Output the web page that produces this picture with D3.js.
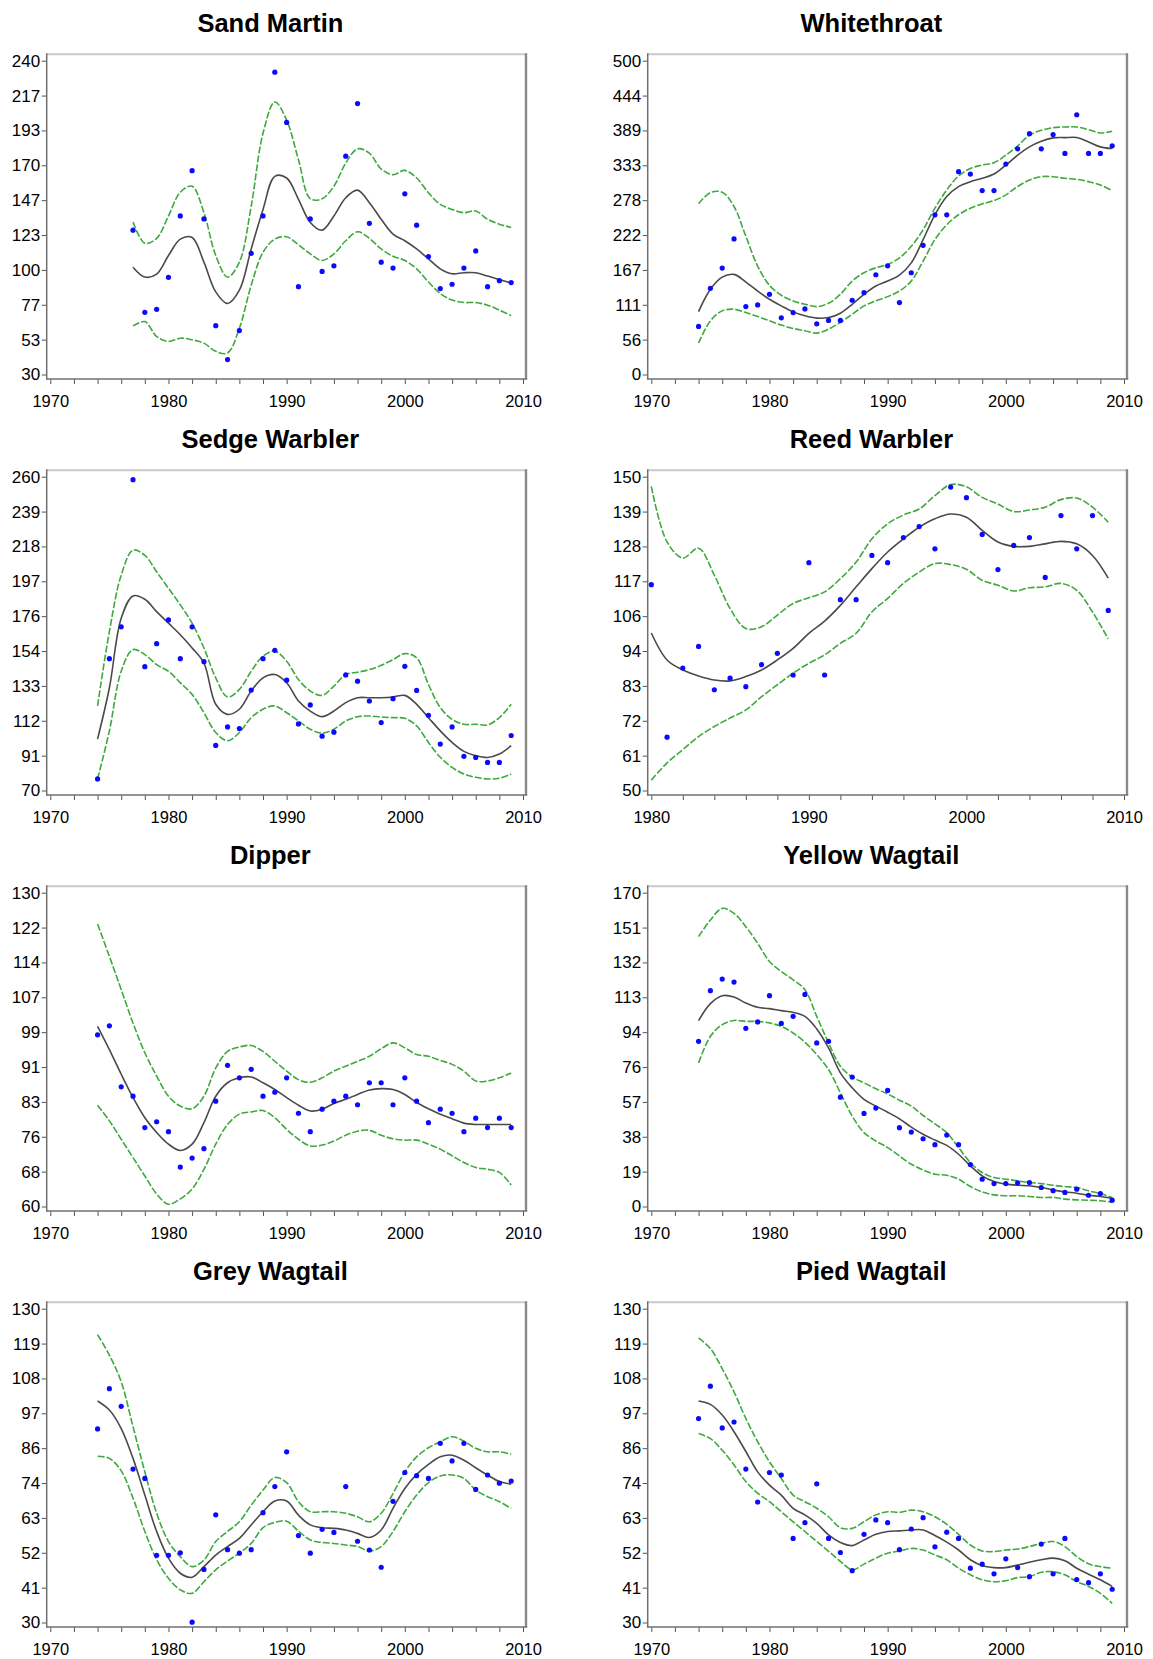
<!DOCTYPE html>
<html>
<head>
<meta charset="utf-8">
<script src="https://cdnjs.cloudflare.com/ajax/libs/d3/7.8.5/d3.min.js"></script>
<style>
  html, body { margin: 0; padding: 0; background: #fff; }
  svg { display: block; }
  .tick text { font-family: "Liberation Sans", Arial, sans-serif; fill: #000; }
  .title { font-family: "Liberation Sans", Arial, sans-serif; font-weight: bold; fill: #000; }
</style>
</head>
<body>
<svg id="chart" width="1153" height="1659"></svg>
<script>
// Survey years
const years1974 = [1974,1975,1976,1977,1978,1979,1980,1981,1982,1983,1984,1985,1986,1987,1988,1989,1990,1991,1992,1993,1994,1995,1996,1997,1998,1999,2000,2001,2002,2003,2004,2005,2006,2007,2008,2009];
const years1977 = [1977,1978,1979,1980,1981,1982,1983,1984,1985,1986,1987,1988,1989,1990,1991,1992,1993,1994,1995,1996,1997,1998,1999,2000,2001,2002,2003,2004,2005,2006,2007,2008,2009];
const years1980 = [1980,1981,1982,1983,1984,1985,1986,1987,1988,1989,1990,1991,1992,1993,1994,1995,1996,1997,1998,1999,2000,2001,2002,2003,2004,2005,2006,2007,2008,2009];

// Sand Martin
const sandMartinIndex = [126.6,71.6,73.6,95,136.1,166.4,134.1,62.7,40,59.4,111.1,136.1,232.3,198.7,88.8,134.1,99,102.7,176.1,211.3,131.2,105.2,101.2,150.9,129.9,108.9,87.5,90.4,101.2,112.7,88.8,92.8,91.5];
const sandMartinTrend = [101.8,95.2,97.2,109.6,120.6,121.7,105.2,85.3,77.5,86.4,114,140.5,162.6,161.5,147.2,131.7,126.6,136.1,148.3,153.4,145,133.9,124,119.5,114,107.4,100.7,97.4,98.1,98.1,95.9,93.5,91.2];
const sandMartinUpper = [132.1,117.8,121.1,136.1,152,156,138.3,109.6,95.2,105.2,142.7,191.4,212.4,200.2,173.7,147.6,147.6,156,171.5,181,178.1,167.5,163.7,166.6,161.5,151.6,143.8,140.5,138.3,139.4,133.9,130.6,128.4];
const sandMartinLower = [62.5,65.4,55.4,52.1,54.3,53.2,51,45.5,44.4,61,89.7,111.8,120.6,122.2,116.7,110.7,106.3,110.7,119.5,125.5,121.1,114,109.1,106.3,100.7,91.9,84.2,79.8,78.2,78.2,76.4,73.1,69.4];
const sandMartinTicks = ["30","53","77","100","123","147","170","193","217","240"];

// Whitethroat
const whitethroatIndex = [76.6,137.3,169.5,216,108.2,110.9,127.8,90.3,98.7,104.5,80.8,86.1,86.1,118.3,130.4,158.9,173.2,114.6,162.1,205.9,254.5,254.5,323.1,319.4,293,293,335.3,359.6,383.8,359.6,382.3,352.2,413.9,352.2,352.2,364.3];
const whitethroatTrend = [100.3,135.7,155.2,159.5,147.3,133,119.9,109.3,99.8,93.5,89.8,90.8,97.7,111.9,127.8,141,148.9,158.4,177.9,214.9,254.5,283.5,299.4,307.3,312.6,319.4,333.7,349.5,362.7,371.7,377,377.5,377.5,370.6,362.7,360];
const whitethroatUpper = [271.9,289.9,290.4,267.7,220.2,172.7,142,126.2,117.2,111.9,108.2,113.5,127.8,148.9,162.1,170,175.3,185.9,204.3,230.7,265,294.1,316.3,328.4,333.7,337.4,349.5,364.3,381.2,389.1,393.3,394.4,394.4,390.2,384.9,387.5];
const whitethroatLower = [50.2,85.5,101.4,104,98.7,92.4,85.5,78.7,73.4,69.7,66,72.3,82.9,96.1,109.3,117.2,124.1,133,148.9,180.6,214.9,238.6,254.5,265,271.9,277.2,286.2,299.4,309.9,315.2,315.2,312.6,311,307.3,302,293];
const whitethroatTicks = ["0","56","111","167","222","278","333","389","444","500"];

// Sedge Warbler
const sedgeIndex = [77,149.8,169.1,258.2,145,158.9,173.3,149.8,169.1,148,97.3,108.5,107.5,130.8,149.8,154.9,136.8,110.3,121.8,102.9,105.3,140,136.2,124.2,111.1,125.6,145.2,130.6,115.5,98.1,108.5,90.7,90,87,87,103.3];
const sedgeTrend = [101.1,132.2,174.3,187.8,185.8,178.3,171.3,164.3,156.3,147.2,122.2,116.1,119.2,130.2,138.2,140.2,135.2,124.2,118.1,114.7,118.1,123.2,126.2,126.2,126.2,126.6,127.6,122.2,114.1,106.1,99.1,93.7,91.1,90,92.1,97.1];
const sedgeUpper = [121.2,166.3,200.4,215.5,212.4,202.4,192.4,182.4,171.3,156.3,138.2,126.6,131.2,142.2,151.3,154.3,148.2,137.2,130.2,127.6,133.2,140.2,141.6,143.2,145.8,149.2,152.9,150.3,134.2,120.2,113.1,110.1,110.1,109.7,114.1,122.2];
const sedgeLower = [77,106.1,142.2,155.3,152.3,146.2,142.2,135.2,128.2,117.1,105.1,100.1,105.1,114.1,119.2,121.2,117.1,112.1,107.1,104.7,107.1,112.1,114.7,115.1,114.5,114.1,113.7,109.1,99.1,90.1,84,80,78,77,77.4,80];
const sedgeTicks = ["70","91","112","133","154","176","197","218","239","260"];

// Reed Warbler
const reedIndex = [115.6,67,89,95.9,82.1,85.8,83.1,90.1,93.7,86.8,122.6,86.8,110.8,110.8,124.9,122.6,130.6,134.1,127,146.7,143.3,131.6,120.4,128.1,130.6,117.9,137.6,127,137.6,107.4];
const reedTrend = [100.2,91.6,88.4,86.5,85.2,84.9,86.3,88.4,91.6,95.3,100.1,104,109,114.9,120.7,126,130.2,133.9,136.6,138.1,137.1,132.9,129.2,127.8,127.8,128.6,129.4,128.6,124.9,117.7];
const reedUpper = [146.9,129.2,124.1,127.2,118.6,108,101.6,102.2,105.9,109.6,111.4,113.3,117.5,122.8,130.2,135,137.8,139.7,144,147.5,146.8,143.4,141.3,138.9,139.4,140.3,142.7,143.2,140.3,135.5];
const reedLower = [53.3,58.8,63,67.2,70.4,73.1,75.7,79.9,83.7,87.4,90.5,93.2,96.9,100.1,106.9,111.2,116,119.6,122.3,122,120.5,117,115.4,113.6,114.6,114.9,116,113.8,106.9,98.3];
const reedTicks = ["50","61","72","83","94","106","117","128","139","150"];

// Dipper
const dipperIndex = [98.3,100.3,86.7,84.6,77.6,78.9,76.7,68.8,70.8,72.9,83.5,91.5,88.7,90.6,84.6,85.5,88.7,80.8,76.7,81.7,83.5,84.6,82.7,87.6,87.6,82.7,88.7,83.5,78.7,81.7,80.8,76.7,79.7,77.6,79.7,77.6];
const dipperTrend = [100.2,95,89.5,84.3,79.8,76.5,73.9,72.5,73.9,78.7,84.6,87.6,88.7,88.9,87.6,86.1,84.3,82.6,81.3,81.7,83,83.9,85,86,86.3,86.1,85,83.2,81.8,80.6,79.6,78.6,78.3,78.3,78.3,78.3];
const dipperUpper = [123,115.8,108.4,100.9,94.3,89.1,84.6,82.4,81.8,84.6,90.9,94.6,95.6,95.9,94.6,92.4,90.2,88.3,87.7,88.7,90.2,91.3,92.4,93.5,95.2,96.5,95.4,93.9,93.5,92.6,91.7,90.2,88,88,88.7,89.8];
const dipperLower = [82.6,79.1,75,70.9,66.8,62.8,60.5,61.7,63.9,68.3,73.9,78.3,80.6,81.1,81.4,79.8,77.2,75,73.5,73.7,74.6,75.9,76.8,77,75.9,75.1,74.8,74.8,73.9,72.8,71.3,69.8,68.7,68.3,67.6,64.8];
const dipperTicks = ["60","68","76","83","91","99","107","114","122","130"];

// Yellow Wagtail
const yellowIndex = [89.5,116.9,123.2,121.6,96.5,100,114.2,99.2,103,114.9,88.6,89.5,59.2,70.1,50.4,53.3,62.9,42.7,40.3,36.7,33.5,38.7,33.5,22.7,14.8,12.4,12.4,12.8,13,10.3,8.6,7.6,9.4,6.1,7,3.4];
const yellowTrend = [100.7,109.9,114.2,113.5,110.2,107.9,107.2,106.1,105.2,103,96.2,85.9,72.4,64.3,58,54.4,51.1,47.5,43,39.1,36,33.1,28.3,22,16.6,13.5,12.1,11.5,11.2,10.3,9,7.9,7.2,6.1,5.4,4.3];
const yellowUpper = [146.2,155.2,161.5,158.8,151.6,142.6,132.7,127.3,122.8,117.4,103,88.6,76,70.2,67,63.8,61,57.6,54.4,49.3,44.8,40,31.9,23.8,18.4,15.7,14.8,13.9,13,12.4,11.5,10.8,10.3,8.5,7,4.9];
const yellowLower = [77.8,92.2,98.5,100.8,100.3,100.3,99.4,97.6,94,89,82.3,74.2,61.6,49,40,35.5,31.9,27.4,22.9,19.8,17.5,16.9,14.8,10.8,7.9,6.3,5.8,5.8,5.4,4.9,4.9,4,3.6,3.4,3.1,2.2];
const yellowTicks = ["0","19","38","57","76","94","113","132","151","170"];

// Grey Wagtail
const greyIndex = [91.7,104.5,98.9,78.9,75.9,51.4,51.4,52.2,30.1,46.9,64.3,53.2,52.1,53.2,65,73.3,84.4,57.7,52.1,59.7,58.7,73.3,55.9,53.1,47.6,68.6,77.8,76.8,75.9,87.1,81.5,87.1,72.4,77,74.4,75.1];
const greyTrend = [100.6,97.7,91.8,82.3,70.6,59,50.5,45.7,44.4,47.8,51.5,54.2,56.8,61.1,65.3,68.7,68.7,64.2,61.1,60.2,60,59.5,58.4,57.1,59.5,66.4,72.7,77.2,80.4,82.8,83.3,81.7,79.3,77,74.9,74.1];
const greyUpper = [121.7,115.2,106.7,92.4,78,64.8,55.8,51,47.8,49.9,55.8,59,62.1,67.4,72.2,76.2,74.6,68.5,65.3,65.3,65.3,64.8,63.7,62.1,64.8,71.1,78,82.8,85.7,87.6,89.2,87.8,85.5,84.4,84.4,83.6];
const greyLower = [83,82.3,78.3,69.6,59,50,44.1,40.4,39.3,43,46.8,49.6,52.1,55.2,60.2,61.9,62.3,59.1,56.3,55.5,55.2,54.7,54.2,52.8,54.2,59,65.3,70.6,74.6,76.7,77,75.9,72.2,70.1,68.5,66.4];
const greyTicks = ["30","41","52","63","74","86","97","108","119","130"];

// Pied Wagtail
const piedIndex = [95,105.3,92,93.9,78.9,68.4,77.8,77,56.8,61.8,74.2,56.8,52.3,46.5,58.1,62.7,61.8,53.2,59.8,63.4,54.1,58.8,56.8,47.3,48.6,45.5,50.3,47.5,44.6,55,45.5,56.8,43.7,42.7,45.5,40.6];
const piedTrend = [100.6,99.5,96.1,90.8,84.5,78,73.8,70.6,66.4,64.3,61.6,57.9,55.5,54.5,56.3,58.1,59,59.2,59.5,59.5,57.7,55.6,53.1,50,48.1,47.5,47.5,48.3,49.2,50,50.5,49.7,47.3,45.4,43.6,41.5];
const piedUpper = [120.7,117.3,110.9,103.5,95,87.6,81.2,75.9,70.6,68.5,66.4,63.7,60.2,60,62.1,64.3,65.3,65.1,65.8,65.3,63.7,61.3,58.1,54.7,52.8,52.6,53.1,53.4,54.2,55.2,55.8,54.2,51,48.7,47.8,47.3];
const piedLower = [90.2,88.6,84.9,80.2,74.9,71.2,68.5,65.3,62.1,59,55.8,52.7,49.5,46.8,48.6,50.5,52.1,52.8,53.6,53.1,51.5,50,47.3,45.2,43.6,43,43.3,44.3,44.6,46,46.2,45.2,43,41.5,39.3,36.1];
const piedTicks = ["30","41","52","63","74","86","97","108","119","130"];

const panels = [
  { title: "Sand Martin",    years: years1977, index: sandMartinIndex,  trend: sandMartinTrend,  upper: sandMartinUpper,  lower: sandMartinLower,  ticks: sandMartinTicks,  start: 1970 },
  { title: "Whitethroat",    years: years1974, index: whitethroatIndex, trend: whitethroatTrend, upper: whitethroatUpper, lower: whitethroatLower, ticks: whitethroatTicks, start: 1970 },
  { title: "Sedge Warbler",  years: years1974, index: sedgeIndex,       trend: sedgeTrend,       upper: sedgeUpper,       lower: sedgeLower,       ticks: sedgeTicks,       start: 1970 },
  { title: "Reed Warbler",   years: years1980, index: reedIndex,        trend: reedTrend,        upper: reedUpper,        lower: reedLower,        ticks: reedTicks,        start: 1980 },
  { title: "Dipper",         years: years1974, index: dipperIndex,      trend: dipperTrend,      upper: dipperUpper,      lower: dipperLower,      ticks: dipperTicks,      start: 1970 },
  { title: "Yellow Wagtail", years: years1974, index: yellowIndex,      trend: yellowTrend,      upper: yellowUpper,      lower: yellowLower,      ticks: yellowTicks,      start: 1970 },
  { title: "Grey Wagtail",   years: years1974, index: greyIndex,        trend: greyTrend,        upper: greyUpper,        lower: greyLower,        ticks: greyTicks,        start: 1970 },
  { title: "Pied Wagtail",   years: years1974, index: piedIndex,        trend: piedTrend,        upper: piedUpper,        lower: piedLower,        ticks: piedTicks,        start: 1970 }
];

const svg = d3.select("#chart");
const colStep = 601, rowStep = 416;

// Frame and axis geometry of a single panel (relative to its origin)
const frame = { left: 46.7, right: 526, top: 54.3, bottom: 379 };
const xRange = [50.3, 523];
const yRange = [374.5, 60.7];

panels.forEach((p, k) => {
  const ox = (k % 2) * colStep;
  const oy = Math.floor(k / 2) * rowStep;
  const g = svg.append("g").attr("transform", `translate(${ox},${oy})`);

  const x = d3.scaleLinear().domain([p.start, 2010]).range(xRange);
  const yMin = +p.ticks[0], yMax = +p.ticks[p.ticks.length - 1];
  const y = d3.scaleLinear().domain([yMin, yMax]).range(yRange);

  // title
  g.append("text").attr("class", "title")
    .attr("x", (frame.left + frame.right) / 2 - 16)
    .attr("y", 31.7)
    .attr("text-anchor", "middle")
    .style("font-size", "25.5px")
    .text(p.title);

  // frame: light top, darker right edge
  g.append("line").attr("x1", frame.left).attr("x2", frame.right + 1)
    .attr("y1", frame.top).attr("y2", frame.top)
    .attr("stroke", "#c9c9c9").attr("stroke-width", 2);
  g.append("line").attr("x1", frame.right).attr("x2", frame.right)
    .attr("y1", frame.top - 1).attr("y2", frame.bottom)
    .attr("stroke", "#8a8a8a").attr("stroke-width", 2.4);

  // y axis
  const step = (yMax - yMin) / (p.ticks.length - 1);
  const yVals = p.ticks.map((t, i) => yMin + i * step);
  const yAxis = d3.axisLeft(y).tickValues(yVals)
    .tickFormat((d, i) => p.ticks[i]).tickSize(5).tickSizeOuter(0).tickPadding(1.5);
  const ya = g.append("g").attr("transform", `translate(${frame.left},0)`).call(yAxis);
  ya.select(".domain").remove();
  ya.selectAll(".tick line").attr("stroke", "#555");
  ya.selectAll(".tick text").style("font-size", "17px");

  // x axis: ticks every two years, labels each decade
  const xVals = d3.range(p.start, 2011, 2);
  const xAxis = d3.axisBottom(x).tickValues(xVals)
    .tickFormat(d => d % 10 === 0 ? String(d) : "").tickSize(5).tickSizeOuter(0).tickPadding(11);
  const xa = g.append("g").attr("transform", `translate(0,${frame.bottom})`).call(xAxis);
  xa.select(".domain").remove();
  xa.selectAll(".tick line").attr("stroke", "#555");
  xa.selectAll(".tick text").style("font-size", "16.5px");

  // axis lines
  g.append("line").attr("x1", frame.left).attr("x2", frame.left)
    .attr("y1", frame.top - 1).attr("y2", frame.bottom + 0.75)
    .attr("stroke", "#707070").attr("stroke-width", 1.5);
  g.append("line").attr("x1", frame.left).attr("x2", frame.right + 1.2)
    .attr("y1", frame.bottom).attr("y2", frame.bottom)
    .attr("stroke", "#707070").attr("stroke-width", 1.5);

  const line = series => d3.line()
    .x((d, i) => x(p.years[i]))
    .y(d => y(d))
    .curve(d3.curveCatmullRom.alpha(0.5))(series);

  // confidence limits
  [p.upper, p.lower].forEach(s => {
    g.append("path").attr("d", line(s))
      .attr("fill", "none").attr("stroke", "#3fa93f")
      .attr("stroke-width", 1.6).attr("stroke-dasharray", "7,2");
  });

  // smoothed trend
  g.append("path").attr("d", line(p.trend))
    .attr("fill", "none").attr("stroke", "#4a4a4a").attr("stroke-width", 1.6);

  // annual index values
  g.selectAll("circle.pt").data(p.index).join("circle")
    .attr("class", "pt")
    .attr("cx", (d, i) => x(p.years[i]))
    .attr("cy", d => y(d))
    .attr("r", 2.6)
    .attr("fill", "#0a0aff");
});
</script>
</body>
</html>
